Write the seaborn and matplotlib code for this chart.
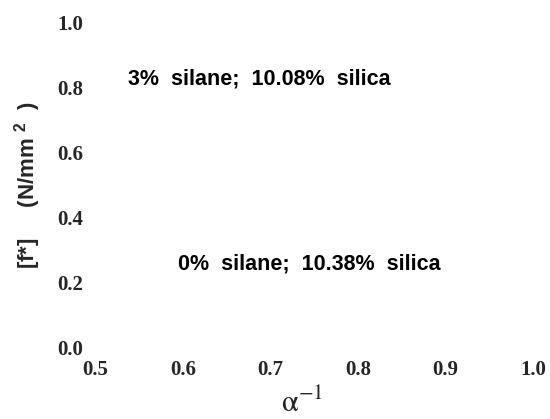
import matplotlib
matplotlib.use("Agg")
import matplotlib.pyplot as plt
import seaborn as sns

# ---- data (chart has no plotted marks; only axes, ticks and annotations) ----
x_ticks = [0.5, 0.6, 0.7, 0.8, 0.9, 1.0]
x_tick_labels = ["0.5", "0.6", "0.7", "0.8", "0.9", "1.0"]
y_ticks = [0.0, 0.2, 0.4, 0.6, 0.8, 1.0]
y_tick_labels = ["0.0", "0.2", "0.4", "0.6", "0.8", "1.0"]
series_labels = ["3%  silane;  10.08%  silica", "0%  silane;  10.38%  silica"]
label_x = [0.537, 0.594]
label_y = [0.828, 0.258]

sns.set_style("white")
plt.rcParams["mathtext.fontset"] = "custom"
plt.rcParams["mathtext.rm"] = "Liberation Sans:bold"
plt.rcParams["mathtext.it"] = "Liberation Sans:bold"
plt.rcParams["mathtext.bf"] = "Liberation Sans:bold"
plt.rcParams["font.family"] = ["Liberation Sans", "DejaVu Sans"]

fig = plt.figure(figsize=(5.5, 4.19), dpi=100)
ax = fig.add_axes([0.1736, 0.1695, 0.7955, 0.7757])
ax.set_xlim(0.5, 1.0)
ax.set_ylim(0.0, 1.0)
sns.despine(ax=ax, left=True, bottom=True)

ax.set_xticks(x_ticks)
ax.set_xticklabels(x_tick_labels, fontfamily="Liberation Serif", fontweight="bold", fontsize=15)
ax.set_yticks(y_ticks)
ax.set_yticklabels(y_tick_labels, fontfamily="Liberation Serif", fontweight="bold", fontsize=15)
ax.tick_params(axis="x", length=0, pad=9)
ax.tick_params(axis="y", length=0, pad=9)

for txt, lx, ly in zip(series_labels, label_x, label_y):
    ax.text(lx, ly, txt, fontfamily="Liberation Sans", fontweight="bold",
            fontsize=15.5, va="center", ha="left", color="black")

ax.set_ylabel(r"[f*]     (N/mm $^{2}$  )", fontfamily="Liberation Sans", fontweight="bold",
              fontsize=16, math_fontfamily="custom")
ax.yaxis.set_label_coords(-0.12, 0.5)

ax.set_xlabel(r"$\mathrm{\alpha}^{-1}$", fontsize=22, math_fontfamily="stix")
ax.xaxis.set_label_coords(0.472, -0.127)

fig.savefig("out.png", dpi=100)
